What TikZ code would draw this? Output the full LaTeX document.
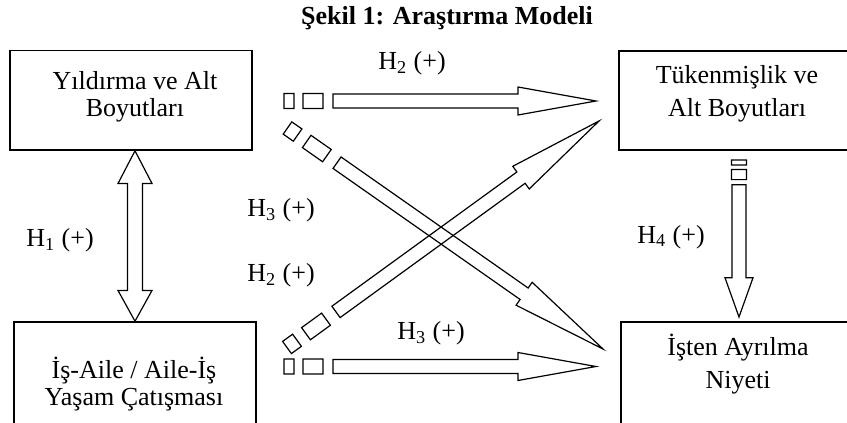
\documentclass[tikz,border=0pt]{standalone}
\usepackage{fontspec}
\setmainfont{Liberation Serif}
\usetikzlibrary{calc}
\tikzset{
    box/.style={rectangle, draw, line width=0.8pt, inner sep=0pt},
    boxtext/.style={align=center, font=\fontsize{13}{13.5}\selectfont},
    hyp/.style={font=\fontsize{13}{15}\selectfont},
    % striped block arrow, drawn along the line start -> tip
    stripearrow/.style={line width=0.6pt, to path={
        let \p1=($(\tikztotarget)-(\tikztostart)$) in
        {[shift={(\tikztostart)}, rotate={atan2(\y1,\x1)}, xscale={veclen(\x1,\y1)/156}]
        (0,-7.5) -- (10,-7.5) -- (10,7.5) -- (0,7.5) -- cycle
        (19,-7.5) -- (39,-7.5) -- (39,7.5) -- (19,7.5) -- cycle
        (49,-7) -- (234,-7) -- (234,-14) -- (312,0) -- (234,14) -- (234,7) -- (49,7) -- cycle}}},
    % block arrow with two heads
    dblarrow/.style={line width=0.6pt, to path={
        let \p1=($(\tikztotarget)-(\tikztostart)$) in
        {[shift={(\tikztostart)}, rotate={atan2(\y1,\x1)}, xscale={veclen(\x1,\y1)/86}]
        (0,0) -- (33,17) -- (33,7.5) -- (141,7.5) -- (141,17) -- (172,0)
        -- (141,-17) -- (141,-7.5) -- (33,-7.5) -- (33,-17) -- cycle}}},
}
\begin{document}
\begin{tikzpicture}[x=0.5pt, y=-0.5pt]
    \clip (0,0) rectangle (847,423);

    % Title
    \node[font=\fontsize{13}{15}\selectfont\bfseries, anchor=base] (baslik) at (447,25) {Şekil 1: Araştırma Modeli};

    % Boxes
    \node[box, minimum width=121pt, minimum height=49.75pt] (yildirma) at (131,100.25) {};
    \node[box, minimum width=118pt, minimum height=49.5pt] (tukenmislik) at (737,100.5) {};
    \node[box, minimum width=121pt, minimum height=62pt] (catisma) at (135,384) {};
    \node[box, minimum width=117pt, minimum height=62pt] (ayrilma) at (738,384) {};

    % Box texts
    \node[boxtext] (yildirmatxt) at (135,96.5) {Yıldırma ve Alt\\Boyutları};
    \node[boxtext] (tukenmisliktxt) at (737,93.5) {Tükenmişlik ve\\[3pt]Alt Boyutları};
    \node[boxtext] (catismatxt) at (134,384) {İş-Aile / Aile-İş\\Yaşam Çatışması};
    \node[boxtext] (ayrilmatxt) at (738,364) {İşten Ayrılma\\[3pt]Niyeti};

    % Hypothesis labels
    \node[hyp] (h1) at (60,240) {H\textsubscript{1} (+)};
    \node[hyp] (h2a) at (412,63) {H\textsubscript{2} (+)};
    \node[hyp] (h3a) at (281,210) {H\textsubscript{3} (+)};
    \node[hyp] (h2b) at (281,275) {H\textsubscript{2} (+)};
    \node[hyp] (h3b) at (431,333) {H\textsubscript{3} (+)};
    \node[hyp] (h4) at (671,237) {H\textsubscript{4} (+)};

    % Arrow ends
    \coordinate (topstart) at (284,101);
    \coordinate (toptip) at (596,101);
    \coordinate (botstart) at (284,366.5);
    \coordinate (bottip) at (596,366.5);
    \coordinate (downstart) at (287.5,128);
    \coordinate (downtip) at (603,349);
    \coordinate (upstart) at (287,347.5);
    \coordinate (uptip) at (599,121);
    \coordinate (h4start) at (739,160);
    \coordinate (h4tip) at (739,317);

    % Arrows
    \draw[dblarrow] (catisma.north |- yildirma.south) to (catisma.north);
    \draw[stripearrow] (topstart) to (toptip);
    \draw[stripearrow] (botstart) to (bottip);
    \draw[stripearrow] (downstart) to (downtip);
    \draw[stripearrow] (upstart) to (uptip);
    \draw[stripearrow] (h4start) to (h4tip);
\end{tikzpicture}
\end{document}
